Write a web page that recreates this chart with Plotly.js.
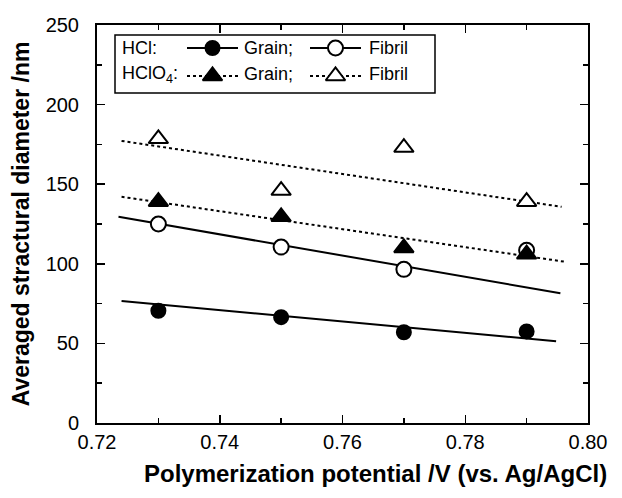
<!DOCTYPE html>
<html>
<head>
<meta charset="utf-8">
<script src="https://cdn.plot.ly/plotly-3.0.1.min.js"></script>
<style>
  html, body { margin: 0; padding: 0; background: #fff; }
  #chart { width: 622px; height: 498px; }
</style>
</head>
<body>
<div id="chart"></div>
<script>
// Polymerization potential (V vs. Ag/AgCl)
const potential = [0.73, 0.75, 0.77, 0.79];

// Averaged structural diameter (nm)
const grainHCl     = [70.5, 66.5, 57, 57.5];
const fibrilHCl    = [125, 110.5, 96.5, 108.5];
const grainHClO4   = [139, 129.5, 110, 106];
const fibrilHClO4  = [178.5, 146, 173, 139];

// Trend lines (end points)
const fitGrainHCl_x    = [0.7240, 0.7948];
const fitGrainHCl_y    = [76.7, 51.3];
const fitFibrilHCl_x   = [0.7235, 0.7955];
const fitFibrilHCl_y   = [129.5, 81.5];
const fitGrainHClO4_x  = [0.7240, 0.7962];
const fitGrainHClO4_y  = [142.1, 101.3];
const fitFibrilHClO4_x = [0.7240, 0.7957];
const fitFibrilHClO4_y = [177.2, 135.8];

// Axis ticks
const xTickVals = [0.72, 0.74, 0.76, 0.78, 0.80];
const xTickText = ['0.72', '0.74', '0.76', '0.78', '0.80'];
const yTickVals = [0, 50, 100, 150, 200, 250];
const yTickText = ['0', '50', '100', '150', '200', '250'];

const FONT = 'Liberation Sans, Arial, Helvetica, sans-serif';

function fitTrace(x, y, dash, xa, ya) {
  return { x: x, y: y, type: 'scatter', mode: 'lines',
           xaxis: xa || 'x', yaxis: ya || 'y',
           line: { color: '#000', width: 2, dash: dash },
           hoverinfo: 'skip', showlegend: false };
}
function pointTrace(x, y, symbol, fill, size, xa, ya) {
  return { x: x, y: y, type: 'scatter', mode: 'markers',
           xaxis: xa || 'x', yaxis: ya || 'y',
           marker: { symbol: symbol, size: size, color: fill, opacity: 1,
                     line: { color: '#000', width: 2 } },
           showlegend: false };
}

const traces = [
  fitTrace(fitGrainHCl_x, fitGrainHCl_y, 'solid'),
  fitTrace(fitFibrilHCl_x, fitFibrilHCl_y, 'solid'),
  fitTrace(fitGrainHClO4_x, fitGrainHClO4_y, 'dot'),
  fitTrace(fitFibrilHClO4_x, fitFibrilHClO4_y, 'dot'),
  pointTrace(potential, grainHCl, 'circle', '#000', 14),
  pointTrace(potential, fibrilHCl, 'circle', '#fff', 15),
  pointTrace(potential, grainHClO4, 'triangle-up', '#000', 17),
  pointTrace(potential, fibrilHClO4, 'triangle-up', '#fff', 17)
];

// Legend key samples, drawn on a hidden pixel-scaled overlay axis pair
function addKey(x0, x1, y, dash, symbol, fill, size) {
  traces.push(fitTrace([x0, x1], [y, y], dash, 'x2', 'y2'));
  traces.push(pointTrace([(x0 + x1) / 2], [y], symbol, fill, size, 'x2', 'y2'));
}
const row1 = 48, row2 = 74;
addKey(187, 238, row1, 'solid', 'circle', '#000', 14);
addKey(310, 361, row1, 'solid', 'circle', '#fff', 15);
addKey(187, 238, row2 + 2, 'dot', 'triangle-up', '#000', 17);
addKey(310, 361, row2 + 2, 'dot', 'triangle-up', '#fff', 17);

const W = 622, H = 498;
const mL = 97, mR = 34, mT = 25, mB = 75;
const pw = W - mL - mR, ph = H - mT - mB;
const px = v => (v - mL) / pw;
const py = v => (H - mB - v) / ph;

const legendFont = { family: FONT, size: 18, color: '#000' };
function label(text, xPix, yPix, anchor) {
  return { text: text, x: px(xPix), y: py(yPix), xref: 'paper', yref: 'paper',
           xanchor: anchor || 'left', yanchor: 'middle', showarrow: false,
           font: legendFont };
}

const layout = {
  width: W, height: H,
  margin: { l: mL, r: mR, t: mT, b: mB },
  paper_bgcolor: '#fff', plot_bgcolor: '#fff',
  showlegend: false,
  xaxis: {
    range: [0.72, 0.80], tickvals: xTickVals, ticktext: xTickText,
    ticks: 'inside', ticklen: 8, tickwidth: 1.5, tickcolor: '#000',
    minor: { dtick: 0.01, ticks: 'inside', ticklen: 5, tickwidth: 1.5, tickcolor: '#000', showgrid: false },
    showline: true, linewidth: 2, linecolor: '#000', mirror: 'allticks',
    showgrid: false, zeroline: false, ticklabelstandoff: 0,
    tickfont: { family: FONT, size: 20, color: '#000' }
  },
  yaxis: {
    range: [0, 250], tickvals: yTickVals, ticktext: yTickText,
    ticks: 'inside', ticklen: 8, tickwidth: 1.5, tickcolor: '#000',
    minor: { dtick: 25, ticks: 'inside', ticklen: 5, tickwidth: 1.5, tickcolor: '#000', showgrid: false },
    showline: true, linewidth: 2, linecolor: '#000', mirror: 'allticks',
    showgrid: false, zeroline: false, ticklabelstandoff: 12,
    tickfont: { family: FONT, size: 20, color: '#000' },
    title: { text: '<b>Averaged stractural diameter /nm</b>', standoff: 10,
             font: { family: FONT, size: 23, color: '#000' } }
  },
  xaxis2: { overlaying: 'x', range: [mL, W - mR], visible: false, fixedrange: true },
  yaxis2: { overlaying: 'y', range: [H - mB, mT], visible: false, fixedrange: true },
  shapes: [
    { type: 'rect', xref: 'paper', yref: 'paper',
      x0: px(115), x1: px(435), y0: py(93), y1: py(35),
      line: { color: '#000', width: 1.5 }, fillcolor: 'rgba(0,0,0,0)' }
  ],
  annotations: [
    { text: '<b>Polymerization potential /V (vs. Ag/AgCl)</b>',
      x: px(375), y: py(473), xref: 'paper', yref: 'paper',
      xanchor: 'center', yanchor: 'middle', showarrow: false,
      font: { family: FONT, size: 24, color: '#000' } },
    label('HCl:', 120, row1),
    label('HClO<sub>4</sub>:', 120, row2),
    label('Grain;', 242, row1),
    label('Fibril', 367, row1),
    label('Grain;', 242, row2),
    label('Fibril', 367, row2)
  ]
};

Plotly.newPlot('chart', traces, layout, { staticPlot: true, displayModeBar: false });
</script>
</body>
</html>
